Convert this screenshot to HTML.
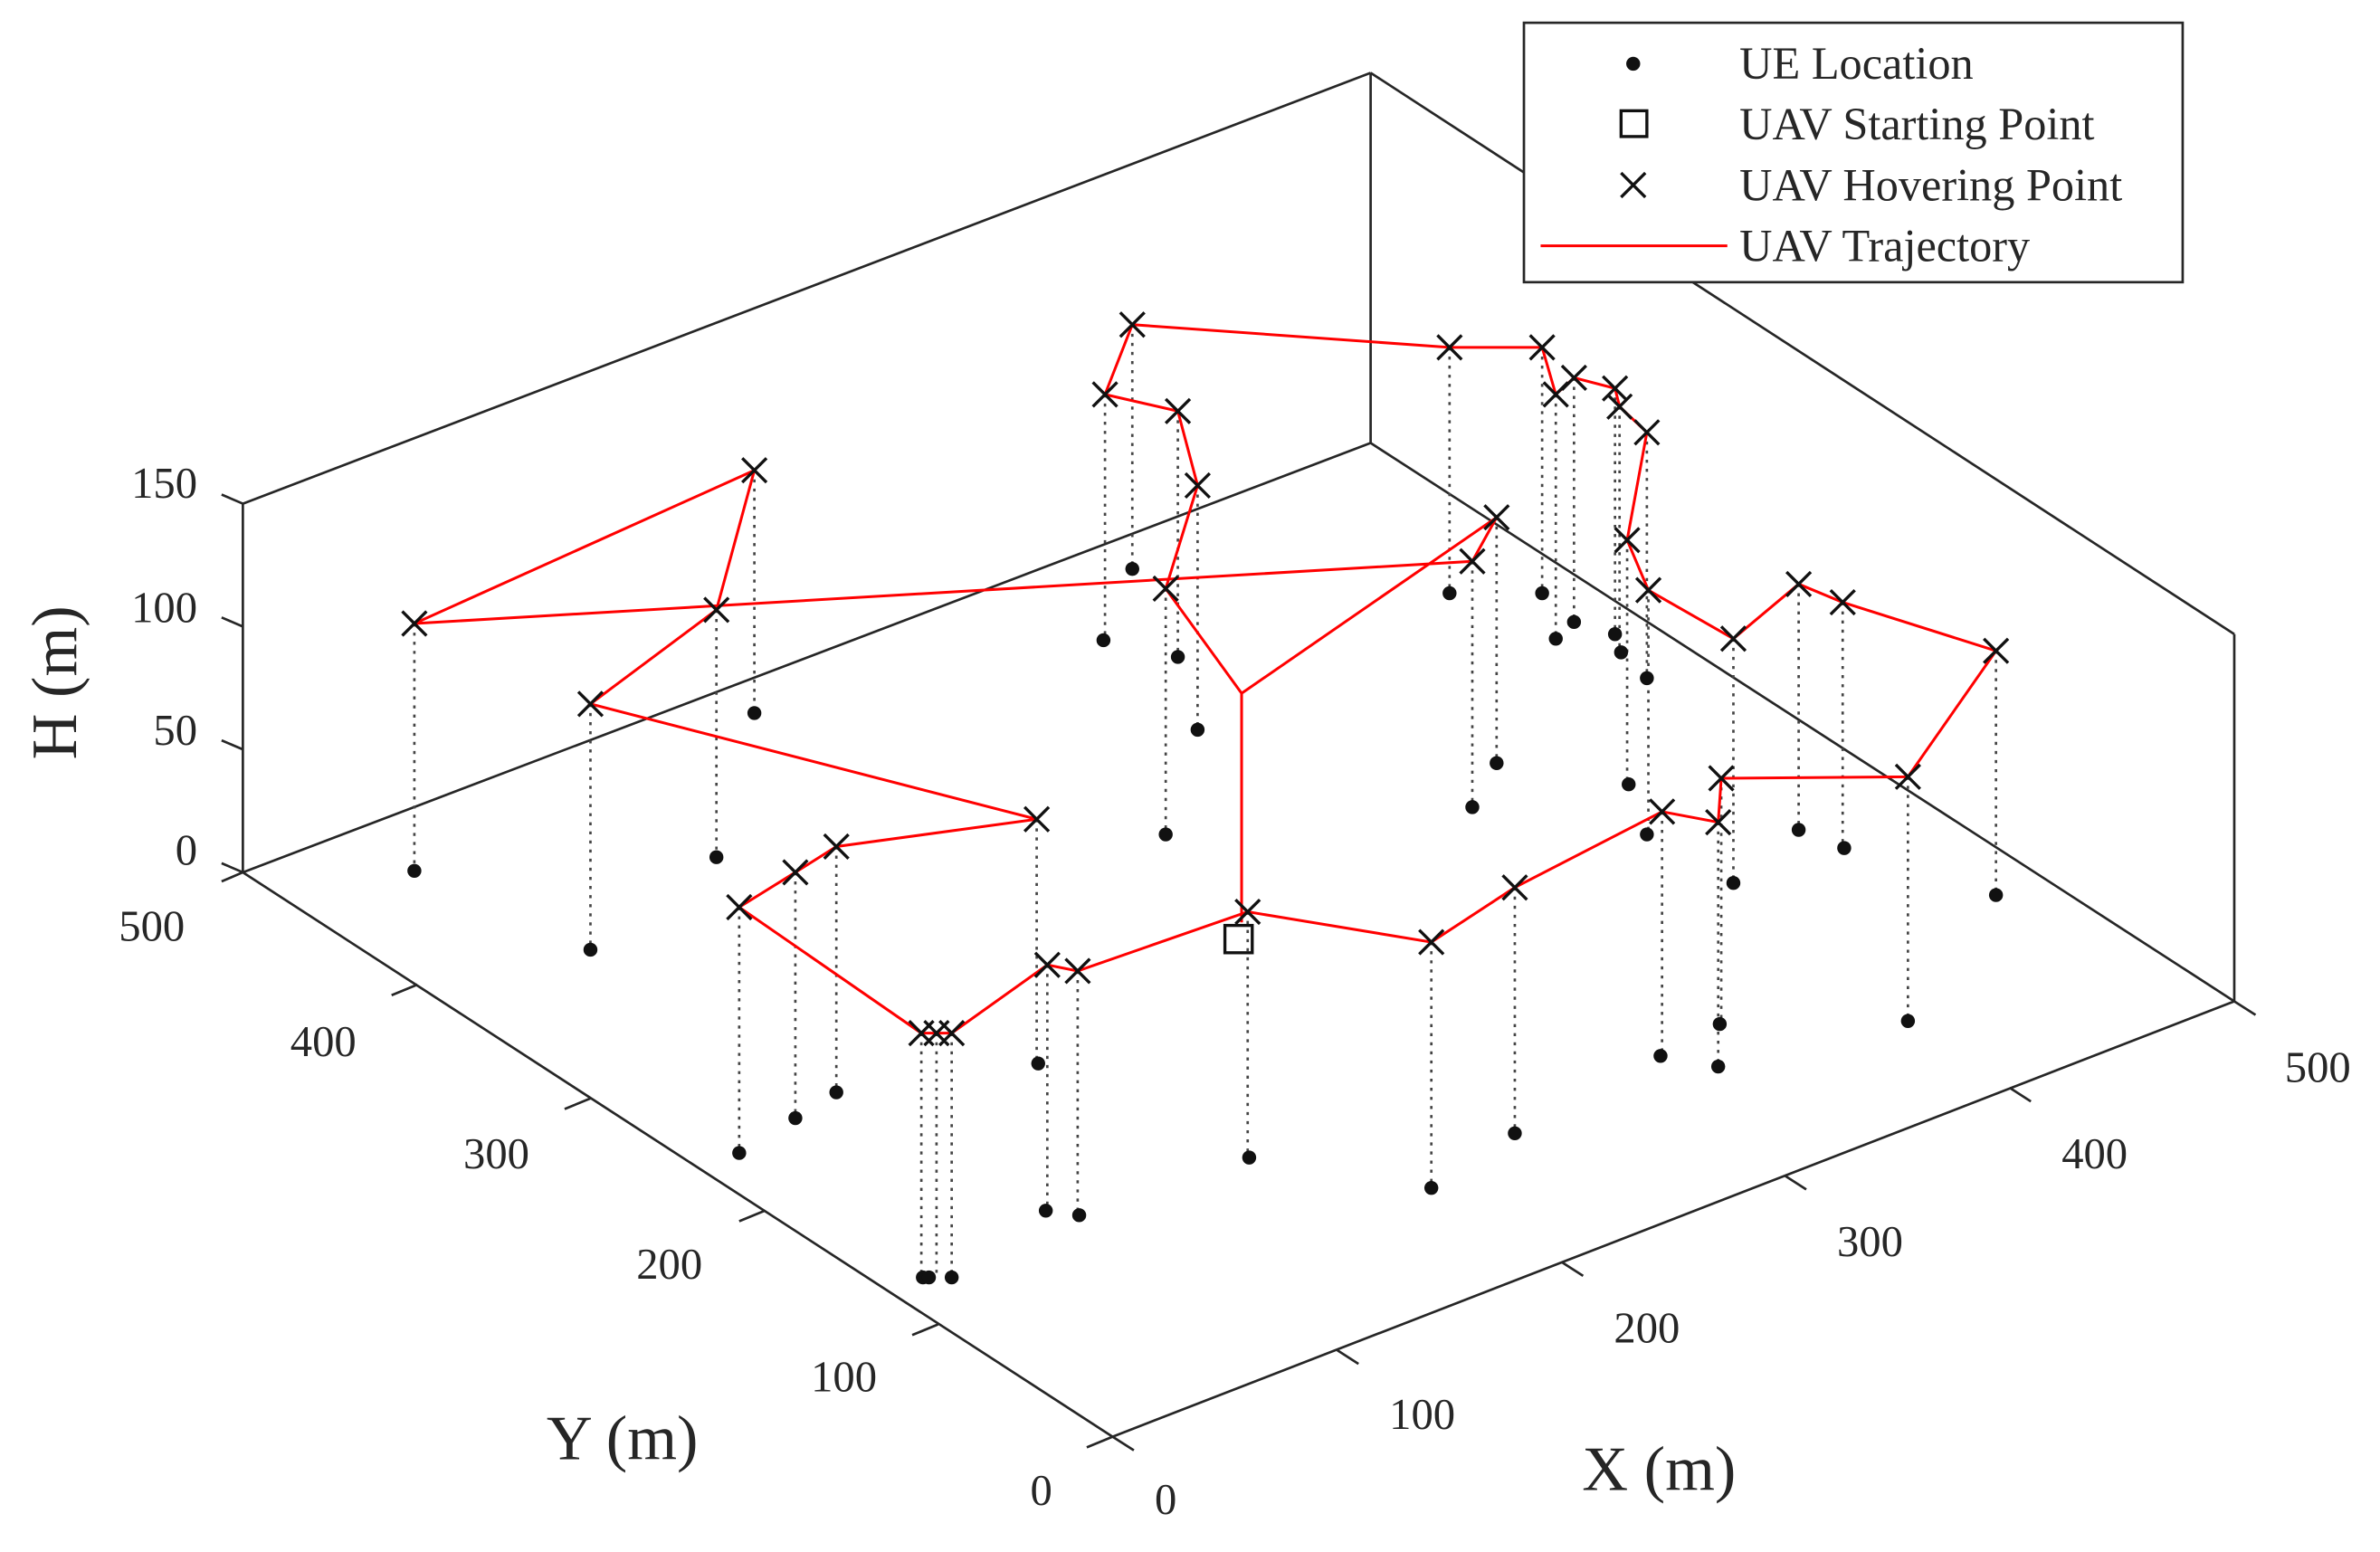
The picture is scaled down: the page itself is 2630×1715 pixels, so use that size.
<!DOCTYPE html>
<html><head><meta charset="utf-8"><style>
html,body{margin:0;padding:0;background:#fff;}
svg{display:block;}
text{font-family:"Liberation Serif",serif;fill:#262626;}
</style></head><body>
<svg width="2630" height="1715" viewBox="0 0 1568 1023" preserveAspectRatio="none" xmlns="http://www.w3.org/2000/svg">
<rect width="1568" height="1023" fill="#fff"/>
<g stroke="#262626" stroke-width="1.6" fill="none">
<line x1="160" y1="575" x2="160" y2="332"/>
<line x1="903" y1="292" x2="903" y2="48"/>
<line x1="1472" y1="660" x2="1472" y2="418"/>
<line x1="160" y1="332" x2="903" y2="48"/>
<line x1="903" y1="48" x2="1472" y2="418"/>
<line x1="160" y1="575" x2="903" y2="292"/>
<line x1="903" y1="292" x2="1472" y2="660"/>
<line x1="160" y1="575" x2="733" y2="947"/>
<line x1="733" y1="947" x2="1472" y2="660"/>
<line x1="160" y1="332" x2="146" y2="326"/>
<line x1="160" y1="413" x2="146" y2="407"/>
<line x1="160" y1="494" x2="146" y2="488"/>
<line x1="160" y1="575" x2="146" y2="569"/>
<line x1="160" y1="575" x2="146" y2="581"/>
<line x1="275" y1="649" x2="258" y2="656"/>
<line x1="389" y1="724" x2="372" y2="731"/>
<line x1="504" y1="798" x2="487" y2="805"/>
<line x1="618" y1="873" x2="601" y2="880"/>
<line x1="733" y1="947" x2="716" y2="954"/>
<line x1="733" y1="947" x2="747" y2="956"/>
<line x1="881" y1="890" x2="895" y2="899"/>
<line x1="1029" y1="832" x2="1043" y2="841"/>
<line x1="1176" y1="775" x2="1190" y2="784"/>
<line x1="1324" y1="717" x2="1338" y2="726"/>
<line x1="1472" y1="660" x2="1486" y2="669"/>
</g>
<g font-size="29">
<text x="130" y="328" text-anchor="end">150</text>
<text x="130" y="410" text-anchor="end">100</text>
<text x="130" y="491" text-anchor="end">50</text>
<text x="130" y="570" text-anchor="end">0</text>
<text x="100" y="620" text-anchor="middle">500</text>
<text x="213" y="696" text-anchor="middle">400</text>
<text x="327" y="770" text-anchor="middle">300</text>
<text x="441" y="843" text-anchor="middle">200</text>
<text x="556" y="917" text-anchor="middle">100</text>
<text x="686" y="992" text-anchor="middle">0</text>
<text x="768" y="998" text-anchor="middle">0</text>
<text x="937" y="942" text-anchor="middle">100</text>
<text x="1085" y="885" text-anchor="middle">200</text>
<text x="1232" y="828" text-anchor="middle">300</text>
<text x="1380" y="770" text-anchor="middle">400</text>
<text x="1527" y="713" text-anchor="middle">500</text>
</g>
<text x="410" y="962" font-size="42" text-anchor="middle">Y (m)</text>
<text x="1093" y="982" font-size="42" text-anchor="middle">X (m)</text>
<text transform="translate(50,450) rotate(-90)" font-size="42" text-anchor="middle">H (m)</text>

<g stroke="#444" stroke-width="1.6" stroke-dasharray="2,4" fill="none">
<path d="M273 411V574M497 310V470M472 402V565M389 464V626M683 540V701M487 598V760M524 575V737M551 558V720M607 681V842M617 681V842M627 681V842M690 636V798M710 640V801M822 601V763M943 621V783M998 585V747M1095 535V696M1132 542V703M1134 513V675M1257 512V673M1315 429V590M1214 397V559M1185 385V547M1142 421V582M1086 389V550M1072 356V517M1085 285V447M1067 268V430M1064 256V418M1037 249V410M1025 260V421M1016 229V391M955 229V391M986 341V503M970 370V532M746 214V375M728 260V422M776 271V433M789 320V481M768 388V550"/>
</g>
<g fill="#111">
<circle cx="273" cy="574" r="4.6"/><circle cx="497" cy="470" r="4.6"/><circle cx="472" cy="565" r="4.6"/><circle cx="389" cy="626" r="4.6"/><circle cx="684" cy="701" r="4.6"/><circle cx="487" cy="760" r="4.6"/><circle cx="524" cy="737" r="4.6"/><circle cx="551" cy="720" r="4.6"/><circle cx="608" cy="842" r="4.6"/><circle cx="612" cy="842" r="4.6"/><circle cx="627" cy="842" r="4.6"/><circle cx="689" cy="798" r="4.6"/><circle cx="711" cy="801" r="4.6"/><circle cx="823" cy="763" r="4.6"/><circle cx="943" cy="783" r="4.6"/><circle cx="998" cy="747" r="4.6"/><circle cx="1094" cy="696" r="4.6"/><circle cx="1132" cy="703" r="4.6"/><circle cx="1133" cy="675" r="4.6"/><circle cx="1257" cy="673" r="4.6"/><circle cx="1315" cy="590" r="4.6"/><circle cx="1215" cy="559" r="4.6"/><circle cx="1185" cy="547" r="4.6"/><circle cx="1142" cy="582" r="4.6"/><circle cx="1085" cy="550" r="4.6"/><circle cx="1073" cy="517" r="4.6"/><circle cx="1085" cy="447" r="4.6"/><circle cx="1068" cy="430" r="4.6"/><circle cx="1064" cy="418" r="4.6"/><circle cx="1037" cy="410" r="4.6"/><circle cx="1025" cy="421" r="4.6"/><circle cx="1016" cy="391" r="4.6"/><circle cx="955" cy="391" r="4.6"/><circle cx="986" cy="503" r="4.6"/><circle cx="970" cy="532" r="4.6"/><circle cx="746" cy="375" r="4.6"/><circle cx="727" cy="422" r="4.6"/><circle cx="776" cy="433" r="4.6"/><circle cx="789" cy="481" r="4.6"/><circle cx="768" cy="550" r="4.6"/>
</g>
<g stroke="#f00" stroke-width="1.8" fill="none">
<polyline points="818,608 818,457 768,388 789,320 776,271 728,260 746,214 955,229 1016,229 1025,260 1037,249 1064,256 1067,268 1085,285 1072,356 1086,389 1142,421 1185,385 1214,397 1315,429 1257,512 1134,513 1132,542 1095,535 998,585 943,621 822,601 710,640 690,636 627,681 617,681 607,681 487,598 524,575 551,558 683,540 389,464 472,402 497,310 273,411 970,370 986,341 818,457"/>
</g>
<g stroke="#111" stroke-width="2" fill="none">
<path d="M265 403l16 16m0-16l-16 16M489 302l16 16m0-16l-16 16M464 394l16 16m0-16l-16 16M381 456l16 16m0-16l-16 16M675 532l16 16m0-16l-16 16M479 590l16 16m0-16l-16 16M516 567l16 16m0-16l-16 16M543 550l16 16m0-16l-16 16M599 673l16 16m0-16l-16 16M609 673l16 16m0-16l-16 16M619 673l16 16m0-16l-16 16M682 628l16 16m0-16l-16 16M702 632l16 16m0-16l-16 16M814 593l16 16m0-16l-16 16M935 613l16 16m0-16l-16 16M990 577l16 16m0-16l-16 16M1087 527l16 16m0-16l-16 16M1124 534l16 16m0-16l-16 16M1126 505l16 16m0-16l-16 16M1249 504l16 16m0-16l-16 16M1307 421l16 16m0-16l-16 16M1206 389l16 16m0-16l-16 16M1177 377l16 16m0-16l-16 16M1134 413l16 16m0-16l-16 16M1078 381l16 16m0-16l-16 16M1064 348l16 16m0-16l-16 16M1077 277l16 16m0-16l-16 16M1059 260l16 16m0-16l-16 16M1056 248l16 16m0-16l-16 16M1029 241l16 16m0-16l-16 16M1017 252l16 16m0-16l-16 16M1008 221l16 16m0-16l-16 16M947 221l16 16m0-16l-16 16M978 333l16 16m0-16l-16 16M962 362l16 16m0-16l-16 16M738 206l16 16m0-16l-16 16M720 252l16 16m0-16l-16 16M768 263l16 16m0-16l-16 16M781 312l16 16m0-16l-16 16M760 380l16 16m0-16l-16 16"/>
</g>
<rect x="807" y="610" width="18" height="18" stroke="#111" stroke-width="2" fill="none"/>
<rect x="1004" y="15" width="434" height="171" fill="#fff" stroke="#262626" stroke-width="1.6"/>
<circle cx="1076" cy="42" r="4.6" fill="#111"/>
<rect x="1068" y="73" width="17" height="17" stroke="#111" stroke-width="2" fill="none"/>
<path d="M1068 114l16 16m0-16l-16 16" stroke="#111" stroke-width="2"/>
<line x1="1015" y1="162" x2="1138" y2="162" stroke="#f00" stroke-width="1.8"/>
<g font-size="30">
<text x="1146" y="52">UE Location</text>
<text x="1146" y="92">UAV Starting Point</text>
<text x="1146" y="132">UAV Hovering Point</text>
<text x="1146" y="172">UAV Trajectory</text>
</g>
</svg>
</body></html>
